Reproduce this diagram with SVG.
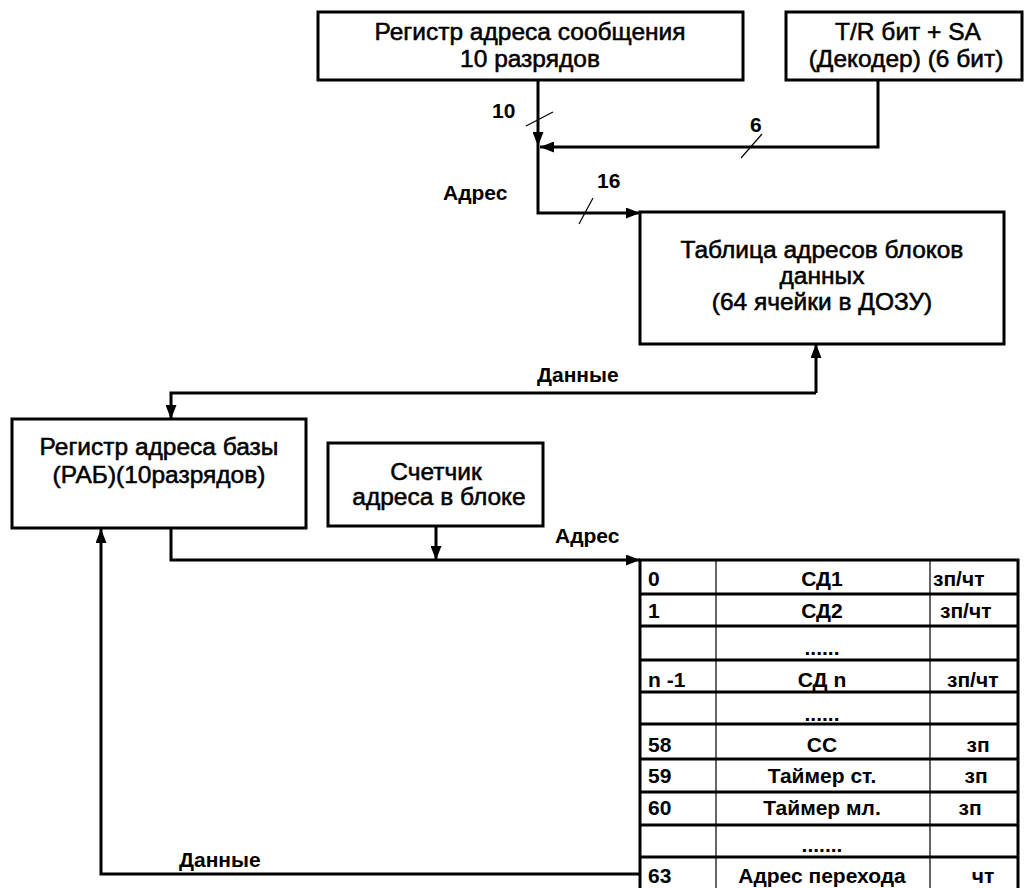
<svg xmlns="http://www.w3.org/2000/svg" width="1030" height="888" viewBox="0 0 1030 888">
<defs>
<style>
.box{fill:#fff;stroke:#000;stroke-width:3}
.t{font-family:"Liberation Sans",Arial,sans-serif;font-size:21px;font-weight:bold;fill:#000}
.b{font-family:"Liberation Sans",Arial,sans-serif;font-size:24.5px;fill:#000;stroke:#000;stroke-width:0.55}
.c{text-anchor:middle}
.conn{fill:none;stroke:#000;stroke-width:3}
.slash{stroke:#000;stroke-width:1.2}
.hl{stroke:#000;stroke-width:3}
.vl{stroke:#000;stroke-width:1.2}
</style>
<marker id="arr" viewBox="0 0 14 11" refX="14" refY="5.5" markerWidth="14" markerHeight="11" markerUnits="userSpaceOnUse" orient="auto">
<path d="M0,0 L14,5.5 L0,11 Z" fill="#000"/>
</marker>
</defs>
<rect width="1030" height="888" fill="#fff"/>

<g id="connectors">
<path class="conn" d="M538,80 V146" marker-end="url(#arr)"/>
<path class="conn" d="M878,80 V147 H540" marker-end="url(#arr)"/>
<path class="conn" d="M538,146 V213 H640" marker-end="url(#arr)"/>
<path class="conn" d="M816,393 V344" marker-end="url(#arr)"/>
<path class="conn" d="M816,393 H171 V419" marker-end="url(#arr)"/>
<path class="conn" d="M171,528 V560 H640" marker-end="url(#arr)"/>
<path class="conn" d="M436,526 V560" marker-end="url(#arr)"/>
<path class="conn" d="M640,874 H101 V529" marker-end="url(#arr)"/>
<line class="slash" x1="526" y1="126" x2="553" y2="112"/>
<line class="slash" x1="741" y1="158" x2="762" y2="134"/>
<line class="slash" x1="579" y1="224" x2="593" y2="198"/>
<text class="t" x="492" y="118">10</text>
<text class="t" x="750" y="132">6</text>
<text class="t" x="597" y="188">16</text>
<text class="t" x="443" y="200">Адрес</text>
<text class="t" x="537" y="382">Данные</text>
<text class="t" x="555" y="543">Адрес</text>
<text class="t" x="179" y="867">Данные</text>
</g>

<g id="msg-addr-reg">
<rect class="box" x="318" y="12" width="425" height="68"/>
<text class="b c" x="530" y="40">Регистр адреса сообщения</text>
<text class="b c" x="530" y="67">10 разрядов</text>
</g>

<g id="tr-bit">
<rect class="box" x="786" y="12" width="236" height="68"/>
<text class="b c" x="908" y="40">T/R бит + SA</text>
<text class="b c" x="906" y="67">(Декодер) (6 бит)</text>
</g>

<g id="addr-table">
<rect class="box" x="640" y="212" width="364" height="132"/>
<text class="b c" x="822" y="258">Таблица адресов блоков</text>
<text class="b c" x="822" y="284">данных</text>
<text class="b c" x="822" y="310">(64 ячейки в ДОЗУ)</text>
</g>

<g id="rab">
<rect class="box" x="12" y="419" width="294" height="109"/>
<text class="b c" x="159" y="455">Регистр адреса базы</text>
<text class="b c" x="159" y="483">(РАБ)(10разрядов)</text>
</g>

<g id="counter">
<rect class="box" x="328" y="443" width="215" height="83"/>
<text class="b c" x="436" y="480">Счетчик</text>
<text class="b c" x="439" y="505">адреса в блоке</text>
</g>

<g id="memory">
<rect x="640" y="560" width="378" height="332" fill="#fff" stroke="#000" stroke-width="3"/>
<line class="vl" x1="716" y1="560" x2="716" y2="890"/>
<line class="vl" x1="930" y1="560" x2="930" y2="890"/>
<line class="hl" x1="640" y1="594" x2="1018" y2="594"/>
<line class="hl" x1="640" y1="626" x2="1018" y2="626"/>
<line class="hl" x1="640" y1="660" x2="1018" y2="660"/>
<line class="hl" x1="640" y1="692" x2="1018" y2="692"/>
<line class="hl" x1="640" y1="724" x2="1018" y2="724"/>
<line class="hl" x1="640" y1="759" x2="1018" y2="759"/>
<line class="hl" x1="640" y1="792" x2="1018" y2="792"/>
<line class="hl" x1="640" y1="825" x2="1018" y2="825"/>
<line class="hl" x1="640" y1="857" x2="1018" y2="857"/>
<text class="t" x="648" y="586">0</text>
<text class="t c" x="822" y="586">СД1</text>
<text class="t" x="933" y="586">зп/чт</text>
<text class="t" x="648" y="618">1</text>
<text class="t c" x="822" y="618">СД2</text>
<text class="t" x="940" y="618">зп/чт</text>
<text class="t c" x="822" y="655">......</text>
<text class="t" x="648" y="687">n -1</text>
<text class="t c" x="822" y="687">СД n</text>
<text class="t" x="947" y="687">зп/чт</text>
<text class="t c" x="822" y="721">......</text>
<text class="t" x="648" y="752">58</text>
<text class="t c" x="822" y="752">СС</text>
<text class="t c" x="978" y="752">зп</text>
<text class="t" x="648" y="783">59</text>
<text class="t c" x="822" y="783">Таймер ст.</text>
<text class="t c" x="976" y="783">зп</text>
<text class="t" x="648" y="815">60</text>
<text class="t c" x="822" y="815">Таймер мл.</text>
<text class="t c" x="970" y="815">зп</text>
<text class="t c" x="822" y="852">.......</text>
<text class="t" x="648" y="883">63</text>
<text class="t c" x="822" y="883">Адрес перехода</text>
<text class="t c" x="983" y="883">чт</text>
</g>
</svg>
